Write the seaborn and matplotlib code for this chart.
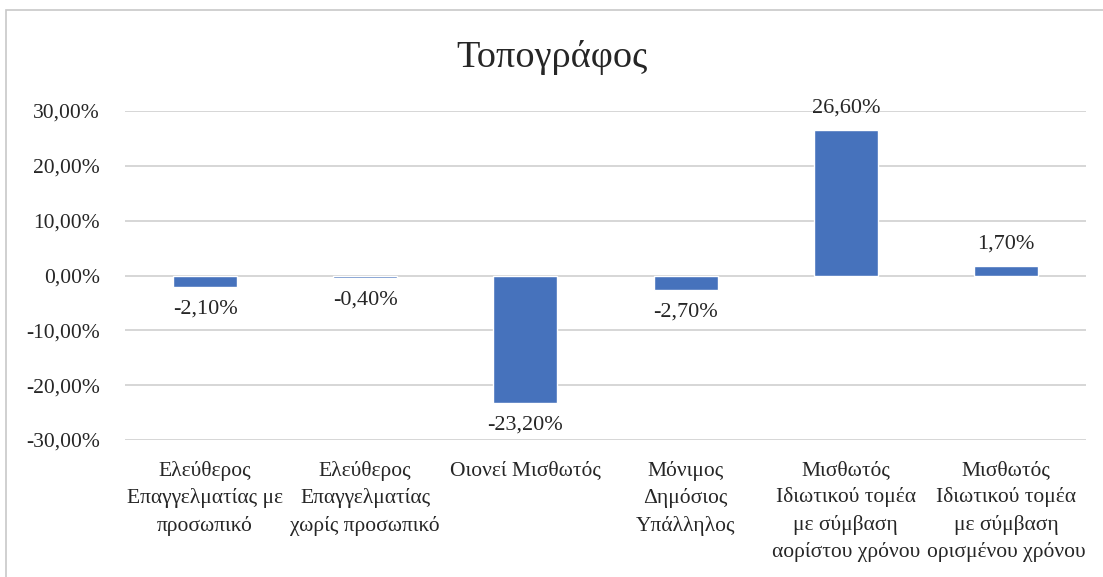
import matplotlib
matplotlib.use("Agg")
import matplotlib.pyplot as plt
import matplotlib.ticker as mticker
import pandas as pd
import seaborn as sns
from matplotlib.patches import Rectangle

title = "Τοπογράφος"
categories = [
    "Ελεύθερος\nΕπαγγελματίας με\nπροσωπικό",
    "Ελεύθερος\nΕπαγγελματίας\nχωρίς προσωπικό",
    "Οιονεί Μισθωτός",
    "Μόνιμος\nΔημόσιος\nΥπάλληλος",
    "Μισθωτός\nΙδιωτικού τομέα\nμε σύμβαση\nαορίστου χρόνου",
    "Μισθωτός\nΙδιωτικού τομέα\nμε σύμβαση\nορισμένου χρόνου",
]
values = [-2.1, -0.4, -23.2, -2.7, 26.6, 1.7]
y_ticks = [-30, -20, -10, 0, 10, 20, 30]


def pct(v):
    return f"{v:.2f}%".replace(".", ",")


sns.set_theme(style="white")
plt.rcParams["font.family"] = ["Liberation Serif", "DejaVu Serif"]

df = pd.DataFrame({"cat": categories, "val": values})

fig = plt.figure(figsize=(11.03, 5.77), dpi=100)
ax = fig.add_axes([0.1133, 0.2374, 0.8713, 0.5702])

sns.barplot(data=df, x="cat", y="val", color="#4672BC", width=0.4,
            saturation=1, ax=ax, zorder=3)

ax.set_ylim(-30, 30)
ax.set_yticks(y_ticks)
ax.yaxis.set_major_formatter(mticker.FuncFormatter(lambda v, _: pct(v)))
ax.grid(axis="y", color="#D0D0D0", linewidth=1.2, zorder=0)
ax.set_axisbelow(True)
for s in ax.spines.values():
    s.set_visible(False)
ax.set_xlabel("")
ax.set_ylabel("")
ax.tick_params(axis="y", labelsize=15.5, colors="#262626", length=0, pad=18)
ax.tick_params(axis="x", labelsize=15.5, colors="#262626", length=0, pad=15)
for lbl in ax.get_xticklabels():
    lbl.set_linespacing(1.5)

for c in ax.containers:
    ax.bar_label(c, labels=[pct(v) for v in values], fontsize=16,
                 color="#262626", padding=9)

fig.suptitle(title, fontsize=27.5, y=0.93, color="#262626")

fig.patches.append(Rectangle((0.0054, -0.02), 1.2, 0.9827 + 0.02,
                             transform=fig.transFigure, fill=False,
                             edgecolor="#C8C8C8", linewidth=1.2))

fig.savefig("out.png", dpi=100)
